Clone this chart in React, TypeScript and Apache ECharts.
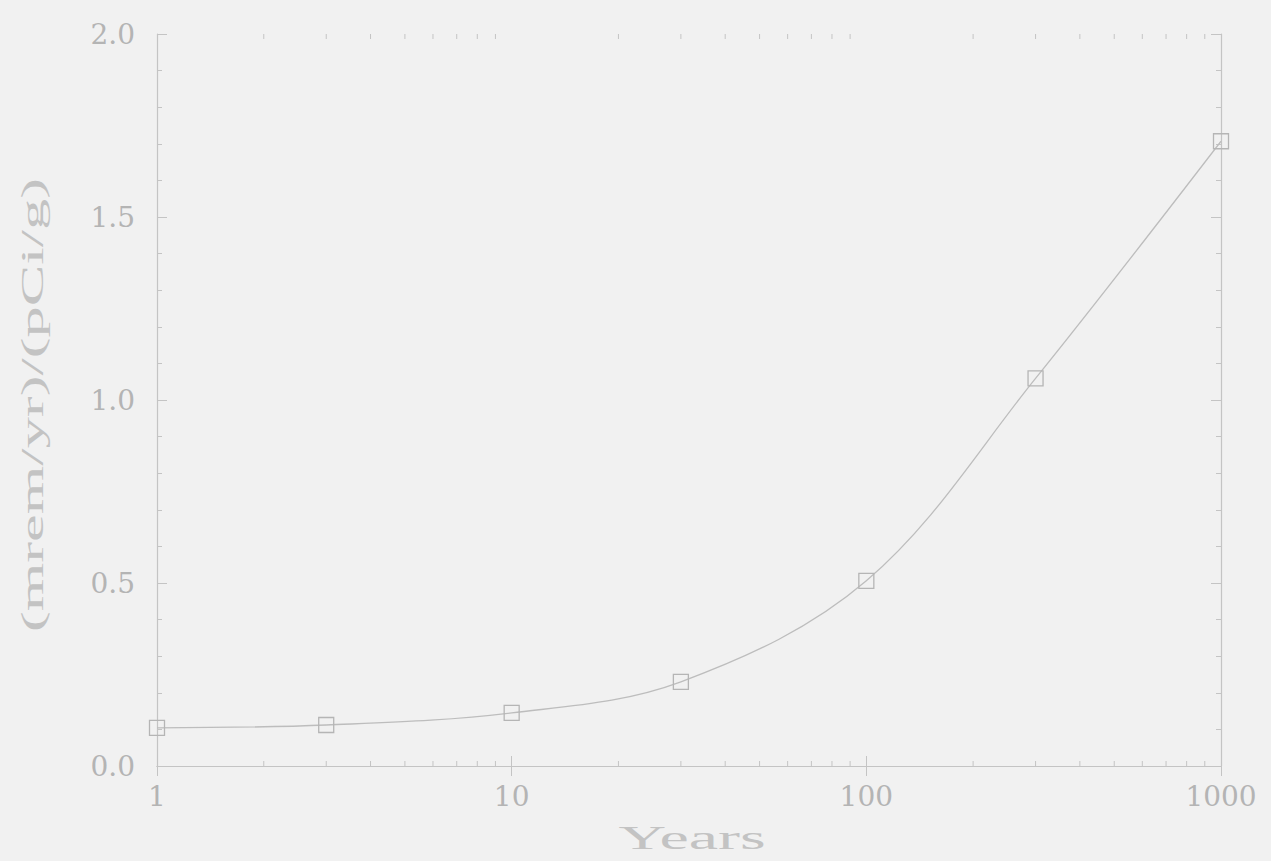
import React, { useEffect, useRef } from "react";
import * as echarts from "echarts";

const years = [1, 3, 10, 30, 100, 300, 1000];
const doseFactor = [0.104, 0.112, 0.145, 0.23, 0.506, 1.059, 1.707];
const xMinorTicks = [2, 3, 4, 5, 6, 7, 8, 9, 20, 30, 40, 50, 60, 70, 80, 90, 200, 300, 400, 500, 600, 700, 800, 900];
const yTickLabels = ["0.0", "0.5", "1.0", "1.5", "2.0"];
const xTickLabels: Record<number, string> = { 1: "1", 10: "10", 100: "100", 1000: "1000" };

const BG = "#f1f1f1";
const AXIS = "#c4c4c4";
const TEXT = "#b4b4b4";
const TITLE = "#c3c3c3";
const FONT = "'DejaVu Serif', 'Liberation Serif', serif";
const TFONT = "'Liberation Serif', 'DejaVu Serif', serif";

export default function App() {
  const ref = useRef<HTMLDivElement>(null);
  useEffect(() => {
    const chart = echarts.init(ref.current!, undefined, { renderer: "svg" });
    const axisLine = { show: true, lineStyle: { color: AXIS, width: 1.2 } };
    chart.setOption({
      animation: false,
      backgroundColor: BG,
      grid: { left: 157, right: 50, top: 34, bottom: 95 },
      xAxis: [
        {
          type: "log",
          logBase: 10,
          min: 1,
          max: 1000,
          position: "bottom",
          axisLine,
          axisTick: { show: true, inside: true, length: 10, lineStyle: { color: AXIS } },
          axisLabel: {
            color: TEXT,
            fontFamily: FONT,
            fontSize: 28,
            margin: 16,
            formatter: (v: number) => xTickLabels[Math.round(v)] ?? String(Math.round(v)),
          },
          splitLine: { show: false },
        },
        {
          type: "log",
          logBase: 10,
          min: 1,
          max: 1000,
          position: "top",
          axisLine,
          axisTick: { show: true, inside: true, length: 10, lineStyle: { color: AXIS } },
          axisLabel: { show: false },
          splitLine: { show: false },
        },
      ],
      yAxis: [
        {
          type: "value",
          min: 0,
          max: 2,
          interval: 0.5,
          position: "left",
          axisLine,
          axisTick: { show: true, inside: true, length: 10, lineStyle: { color: AXIS } },
          minorTick: { show: true, splitNumber: 5, length: 5, lineStyle: { color: AXIS } },
          axisLabel: {
            color: TEXT,
            fontFamily: FONT,
            fontSize: 28,
            margin: 22,
            formatter: (v: number) => yTickLabels[Math.round(v / 0.5)] ?? v.toFixed(1),
          },
          splitLine: { show: false },
        },
        {
          type: "value",
          min: 0,
          max: 2,
          interval: 0.5,
          position: "right",
          axisLine,
          axisTick: { show: true, inside: true, length: 10, lineStyle: { color: AXIS } },
          minorTick: { show: true, splitNumber: 5, length: 5, lineStyle: { color: AXIS } },
          axisLabel: { show: false },
          splitLine: { show: false },
        },
      ],
      graphic: [
        {
          type: "text",
          x: 692,
          y: 838,
          scaleX: 2.0,
          style: {
            text: "Years",
            fill: TITLE,
            font: `33px ${TFONT}`,
            align: "center",
            verticalAlign: "middle",
          },
        },
        {
          type: "text",
          x: 32,
          y: 405,
          rotation: Math.PI / 2,
          scaleX: 1.95,
          style: {
            text: "(mrem/yr)/(pCi/g)",
            fill: TITLE,
            font: `32px ${TFONT}`,
            align: "center",
            verticalAlign: "middle",
          },
        },
      ],
      series: [
        {
          type: "custom",
          xAxisIndex: 0,
          yAxisIndex: 0,
          silent: true,
          data: xMinorTicks.map((v) => [v]),
          renderItem: (params: any, api: any) => {
            const x = api.coord([api.value(0), 0])[0];
            const yb = api.coord([1, 0])[1];
            const yt = api.coord([1, 2])[1];
            const style = { stroke: AXIS, lineWidth: 1 };
            return {
              type: "group",
              children: [
                { type: "line", shape: { x1: x, y1: yb, x2: x, y2: yb - 5 }, style },
                { type: "line", shape: { x1: x, y1: yt, x2: x, y2: yt + 5 }, style },
              ],
            };
          },
          z: 1,
        },
        {
          type: "line",
          xAxisIndex: 0,
          yAxisIndex: 0,
          data: years.map((y, i) => [y, doseFactor[i]]),
          smooth: 0.35,
          symbol: "rect",
          symbolSize: 15,
          lineStyle: { color: "#bdbdbd", width: 1.3 },
          itemStyle: { color: "rgba(0,0,0,0)", borderColor: "#b5b5b5", borderWidth: 1.3 },
          z: 3,
        },
      ],
    });
    return () => chart.dispose();
  }, []);
  return (
    <div
      ref={ref}
      style={{ position: "fixed", left: 0, top: 0, width: 1271, height: 861 }}
    />
  );
}
